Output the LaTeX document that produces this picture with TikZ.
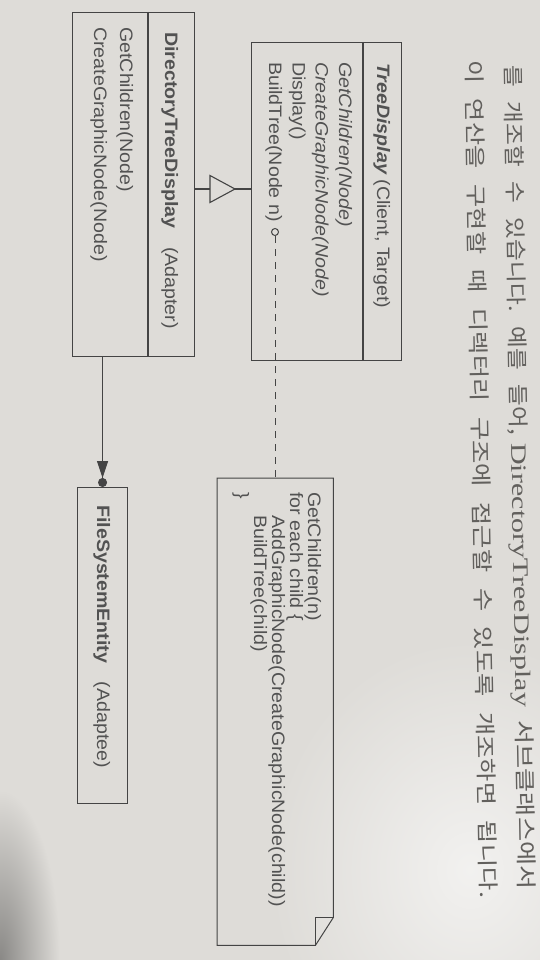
\documentclass[tikz,border=0pt]{standalone}
\usepackage{fontspec}
\usepackage{graphicx}
\setmainfont{Liberation Sans}
\newfontfamily\dsans{Liberation Sans}
\newfontfamily\kr{Noto Sans CJK KR}
\newfontfamily\lsr{Liberation Serif}
\usetikzlibrary{arrows.meta}
\definecolor{bgc}{RGB}{222,220,216}
\definecolor{ink}{RGB}{68,68,68}
\definecolor{txc}{RGB}{82,82,82}
\definecolor{krc}{RGB}{98,96,93}
\newcommand\ks{\hspace{0.6em}}
\begin{document}
\begin{tikzpicture}[x=1pt,y=-1pt,
  box/.style={draw=ink, line width=1.1pt, inner sep=0pt, anchor=north west},
  lbl/.style={rotate=-90, xscale=1.09, anchor=base west, inner sep=0pt, text=txc, font=\dsans\fontsize{18}{20}\selectfont},
  kor/.style={rotate=-89, anchor=base west, inner sep=0pt, text=krc, font=\kr\fontsize{21}{24}\selectfont},
  edge/.style={draw=ink, line width=1.1pt}]
\fill[bgc] (0,0) rectangle (540,960);
\useasboundingbox (0,0) rectangle (540,960);
\begin{scope}
\clip (0,0) rectangle (540,960);
\shade[inner color=bgc!62!black, outer color=bgc] (0,960) ellipse [x radius=60pt, y radius=170pt];
\shade[inner color=white!60!bgc, outer color=bgc] (470,870) ellipse [x radius=200pt, y radius=230pt];
\end{scope}

% Korean text
\node[kor] (k1) at (505,65) {\resizebox{370pt}{\height}{를\ks 개조할\ks 수\ks 있습니다.\ks 예를\ks 들어,}\hspace{8pt}\resizebox{264pt}{\height}{\lsr\fontsize{22}{24}\selectfont DirectoryTreeDisplay}\hspace{13pt}\resizebox{170pt}{\height}{서브클래스에서}};
\node[kor] (k2) at (466,60) {\resizebox{838pt}{\height}{이\ks 연산을\ks 구현할\ks 때\ks 디렉터리\ks 구조에\ks 접근할\ks 수\ks 있도록\ks 개조하면\ks 됩니다.}};

% TreeDisplay
\node[box, minimum width=150pt, minimum height=318pt] (td) at (251,42) {};
\draw[edge] ([xshift=112pt]td.north west) -- ([xshift=112pt]td.south west);
\node[lbl] (tdt) at (377,63) {\bfseries\itshape TreeDisplay\ \mdseries\upshape(Client, Target)};
\node[lbl] (tdm1) at (339,62) {\itshape GetChildren(Node)};
\node[lbl] (tdm2) at (315.5,62) {\itshape CreateGraphicNode(Node)};
\node[lbl] (tdm3) at (292.5,62) {Display()};
\node[lbl] (tdm4) at (269,62) {BuildTree(Node n)};

% DirectoryTreeDisplay
\node[box, minimum width=122pt, minimum height=344pt] (dtd) at (72,12) {};
\draw[edge] ([xshift=76pt]dtd.north west) -- ([xshift=76pt]dtd.south west);
\node[lbl] (dtdt) at (165,32) {\bfseries DirectoryTreeDisplay\hspace{17pt}\mdseries(Adapter)};
\node[lbl] (dtdm1) at (120,27) {GetChildren(Node)};
\node[lbl] (dtdm2) at (94,27) {CreateGraphicNode(Node)};

% FileSystemEntity
\node[box, minimum width=50pt, minimum height=316pt] (fse) at (77,487) {};
\node[lbl] (fset) at (97,505) {\bfseries FileSystemEntity\hspace{17pt}\mdseries(Adaptee)};

% Note
\node[inner sep=0pt, anchor=north west, minimum width=116pt, minimum height=467pt] (note) at (217,478) {};
\draw[edge, line width=1pt] (note.north west) -- (note.north east) -- ([yshift=28pt]note.south east) -- ([xshift=-18pt]note.south east) -- (note.south west) -- cycle;
\draw[edge, line width=0.8pt] ([yshift=28pt]note.south east) -- ([xshift=-18pt,yshift=28pt]note.south east) -- ([xshift=-18pt]note.south east);
\node[lbl] (n1) at (308,492) {GetChildren(n)};
\node[lbl] (n2) at (290,492) {for each child \{};
\node[lbl] (n3) at (272,515) {AddGraphicNode(CreateGraphicNode(child))};
\node[lbl] (n4) at (254,515) {BuildTree(child)};
\node[lbl] (n5) at (236,492) {\}};

% inheritance
\coordinate (gb) at (210,189);
\coordinate (ga) at (235,189);
\draw[edge] (dtd.east |- gb) -- (gb) (ga) -- (td.west |- ga);
\draw[edge] ([yshift=13.5pt]gb) -- (ga) -- ([yshift=-13.5pt]gb) -- cycle;

% dashed note link
\node[circle, draw=ink, line width=1pt, minimum size=7pt, inner sep=0pt] (bc) at (275,232) {};
\draw[edge, line width=1pt, dash pattern=on 7pt off 6pt] (bc) -- (bc |- note.north);

% association
\draw[edge, -{Triangle[length=17pt,width=11pt] Circle[length=9pt]}] (fse.north |- dtd.south) -- (fse.north);
\end{tikzpicture}
\end{document}
